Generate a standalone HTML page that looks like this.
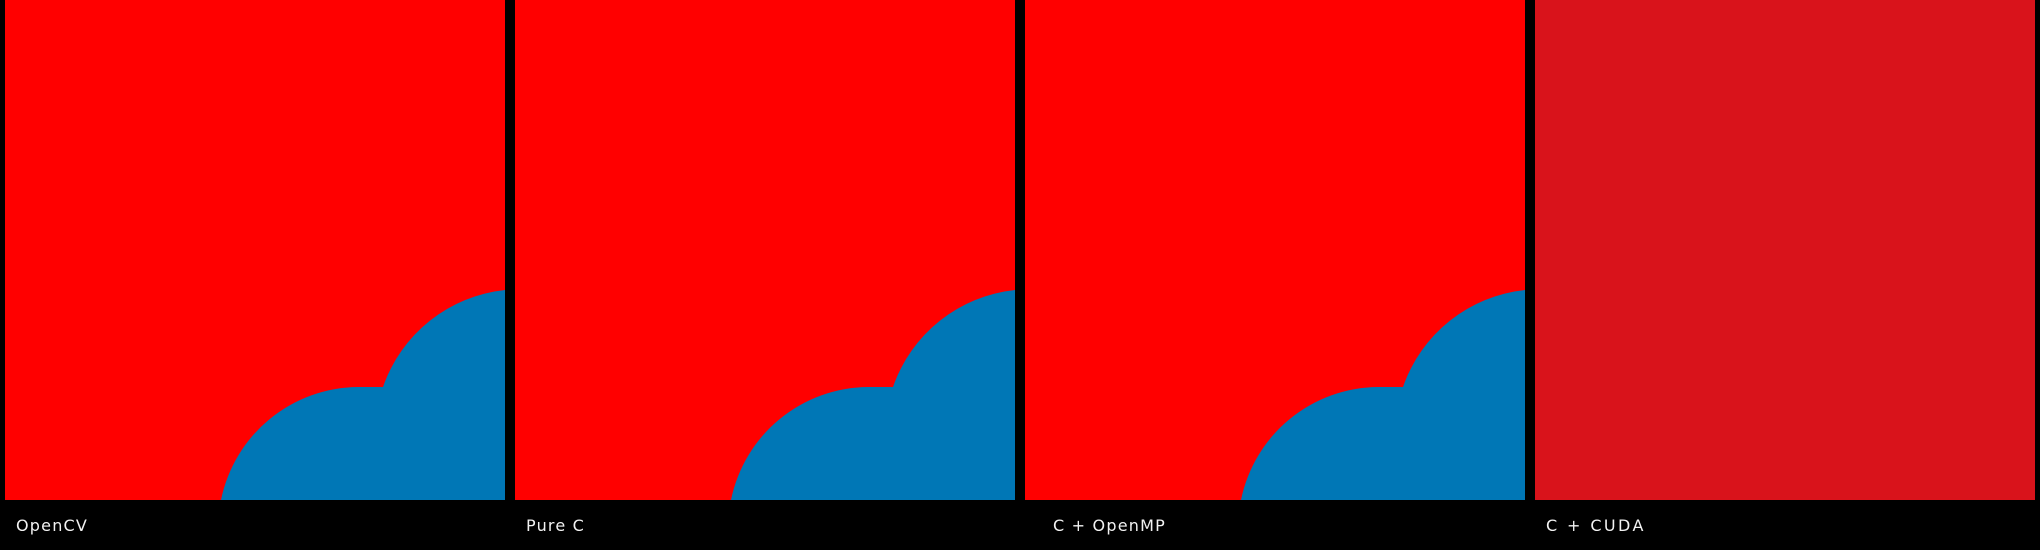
<!DOCTYPE html>
<html><head><meta charset="utf-8"><style>
html,body{margin:0;padding:0;background:#000;width:2040px;height:550px;overflow:hidden}
svg{display:block}
text{font-family:"DejaVu Sans","Liberation Sans",sans-serif;font-size:16px;fill:#f2f2f2;letter-spacing:1.2px}
</style></head><body>
<svg width="2040" height="550" viewBox="0 0 2040 550">
  <rect x="0" y="0" width="2040" height="550" fill="#000"/>
  <g transform="translate(5,0)">
    <rect width="500" height="500" fill="#ff0000"/>
    <path d="M216,500 A141,141 0 0 1 353,387 L378,387 A145,145 0 0 1 500,290 L500,500 Z" fill="#0077b6"/>
    <text x="11" y="531">OpenCV</text>
  </g>
  <g transform="translate(515,0)">
    <rect width="500" height="500" fill="#ff0000"/>
    <path d="M216,500 A141,141 0 0 1 353,387 L378,387 A145,145 0 0 1 500,290 L500,500 Z" fill="#0077b6"/>
    <text x="11" y="531">Pure C</text>
  </g>
  <g transform="translate(1025,0)">
    <rect width="500" height="500" fill="#ff0000"/>
    <path d="M216,500 A141,141 0 0 1 353,387 L378,387 A145,145 0 0 1 500,290 L500,500 Z" fill="#0077b6"/>
    <text x="28" y="531" xml:space="preserve">C + OpenMP</text>
  </g>
  <g transform="translate(1535,0)">
    <rect width="500" height="500" fill="#d9131b"/>
    <text x="11" y="531" xml:space="preserve" style="letter-spacing:2.4px">C + CUDA</text>
  </g>
</svg>
</body></html>
